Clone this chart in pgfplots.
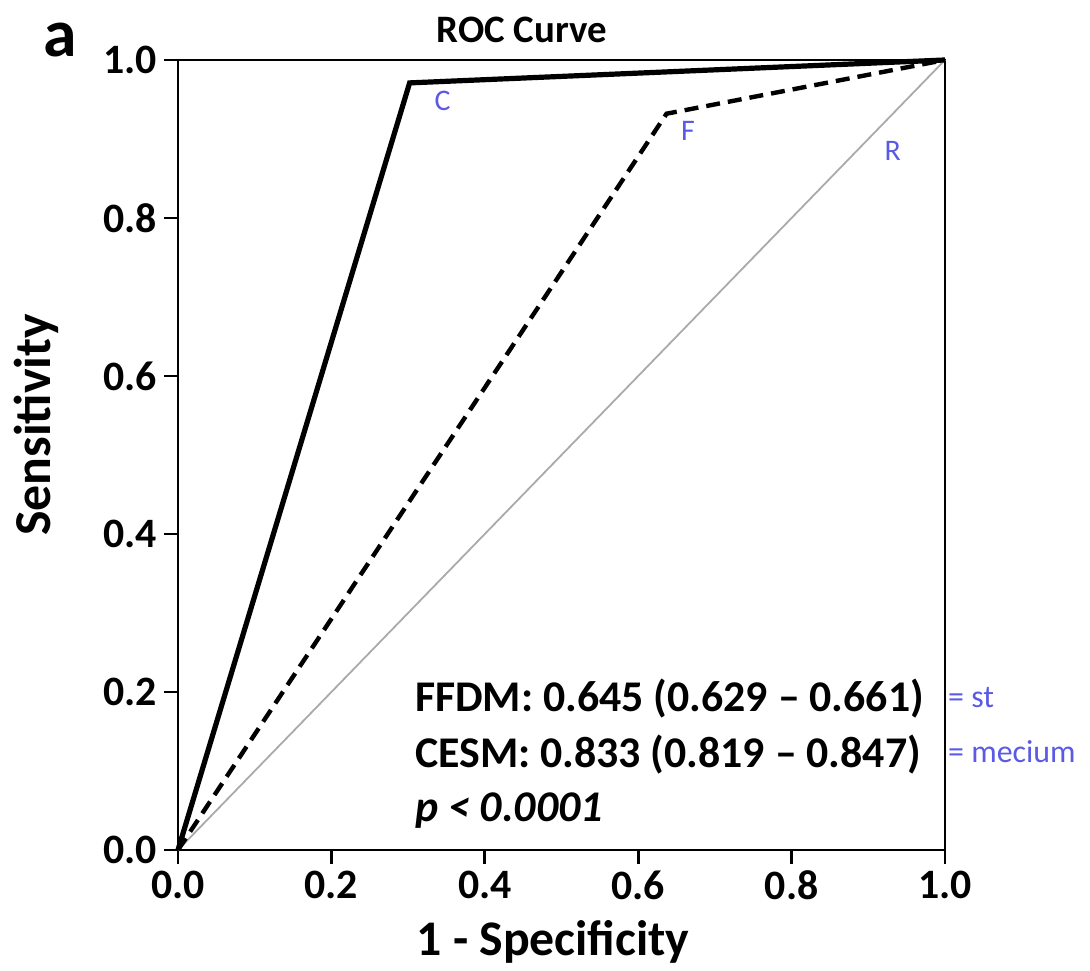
\documentclass[border=0pt]{standalone}
\usepackage{fontspec}
\setmainfont{Carlito}
\usepackage{pgfplots}
\pgfplotsset{compat=1.18}

\definecolor{pen}{RGB}{90,90,230}
\definecolor{chance}{RGB}{170,170,170}

\begin{document}
\begin{tikzpicture}
\begin{axis}[
    at={(0,0)}, anchor=south west,
    width=383.5bp, height=395bp, scale only axis,
    xmin=0, xmax=1, ymin=0, ymax=1,
    xtick={0,0.2,...,1.0}, ytick={0,0.2,...,1.0},
    tick align=outside,
    xtick pos=bottom, ytick pos=left,
    major tick length=7bp,
    axis line style={line width=1.3bp},
    every tick/.style={black, line width=1.4bp},
    tick label style={font=\fontsize{21}{23}\selectfont\bfseries},
    /pgf/number format/.cd, fixed, fixed zerofill, precision=1, assume math mode=true,
    /pgfplots/.cd,
    clip=false,
]
% chance line
\addplot[chance, line width=0.9bp] coordinates {(0,0) (1,1)};
% FFDM
\addplot[black, line width=2.2bp, dash pattern=on 7bp off 4bp] coordinates {
    (0,0) (0.637,0.932) (1,1)
};
% CESM
\addplot[black, line width=2.6bp] coordinates {
    (0,0) (0.302,0.971) (1,1)
};

\node[anchor=base west, font=\fontsize{22}{24}\selectfont\bfseries] at (axis cs:0.300,0.175) {FFDM: 0.645 (0.629 – 0.661)};
\node[anchor=base west, font=\fontsize{22}{24}\selectfont\bfseries] at (axis cs:0.300,0.104) {CESM: 0.833 (0.819 – 0.847)};
\node[anchor=base west, font=\fontsize{22}{24}\selectfont\bfseries\itshape] at (axis cs:0.300,0.036) {p < 0.0001};

% handwritten notes
\node[pen, font=\fontsize{15}{16}\selectfont] at (axis cs:0.345,0.948) {C};
\node[pen, font=\fontsize{15}{16}\selectfont] at (axis cs:0.665,0.910) {F};
\node[pen, font=\fontsize{15}{16}\selectfont] at (axis cs:0.932,0.885) {R};
\node[pen, anchor=west, font=\fontsize{16}{17}\selectfont] at (axis cs:0.995,0.193) {= st};
\node[pen, anchor=west, font=\fontsize{16}{17}\selectfont] at (axis cs:0.995,0.124) {= mecium};
\end{axis}

\node[font=\fontsize{19.5}{21}\selectfont\bfseries] at (172bp,410bp) {ROC Curve};
\node[font=\fontsize{34}{36}\selectfont\bfseries] at (-59bp,405bp) {a};
\node[rotate=90, font=\fontsize{26}{28}\selectfont\bfseries] at (-71bp,212.5bp) {Sensitivity};
\node[font=\fontsize{25}{27}\selectfont\bfseries] at (187.5bp,-46bp) {1 - Specificity};

\path[use as bounding box] (-89bp,-57bp) rectangle (456bp,425bp);
\end{tikzpicture}
\end{document}
